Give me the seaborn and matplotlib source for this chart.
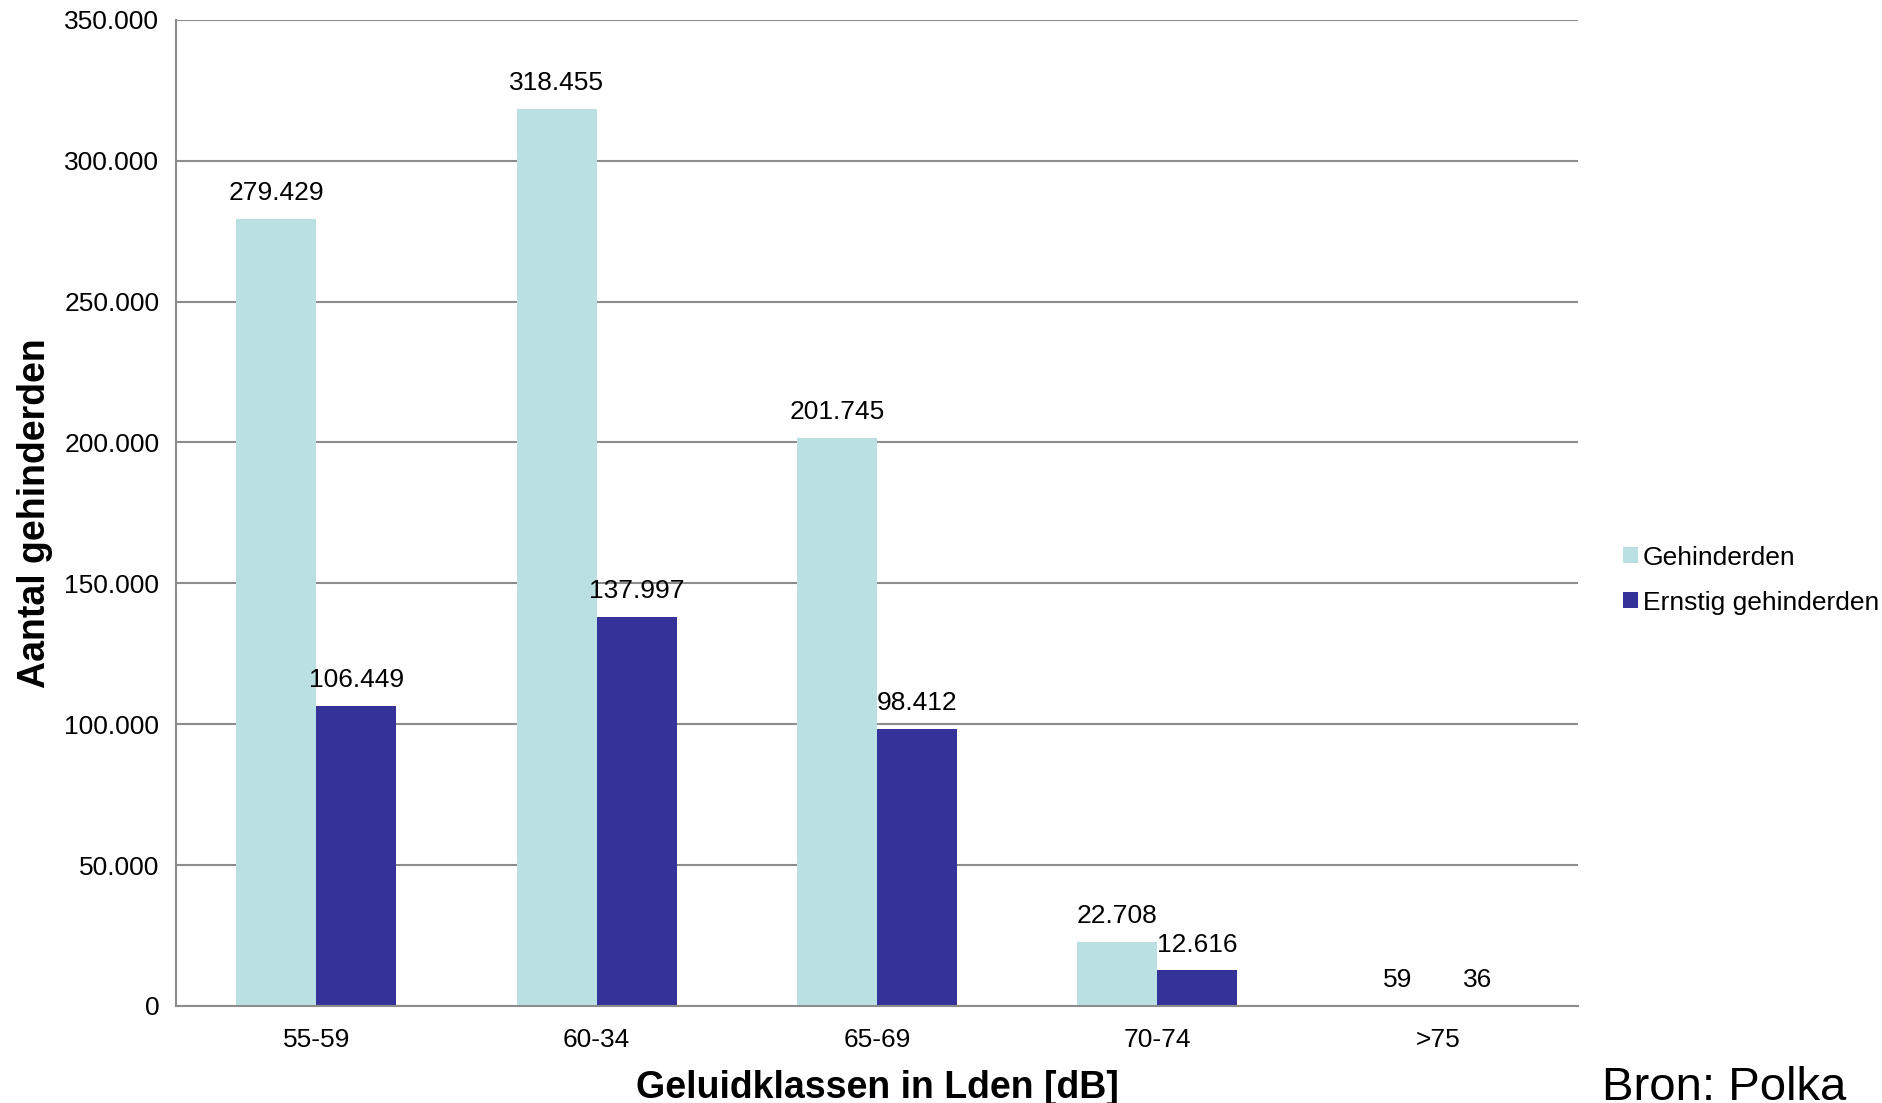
import pandas as pd
import matplotlib
matplotlib.use("Agg")
import matplotlib.pyplot as plt
import seaborn as sns
from matplotlib.patches import Patch
from matplotlib.ticker import FuncFormatter, MultipleLocator

# data
klassen = ["55-59", "60-34", "65-69", "70-74", ">75"]
gehinderden = [279429, 318455, 201745, 22708, 59]
ernstig = [106449, 137997, 98412, 12616, 36]
series = ["Gehinderden", "Ernstig gehinderden"]
colors = ["#BAE0E3", "#353399"]

df = pd.DataFrame({
    "klasse": klassen * 2,
    "aantal": gehinderden + ernstig,
    "reeks": [series[0]] * len(klassen) + [series[1]] * len(klassen),
})

sns.set_style("white")
plt.rcParams["font.family"] = ["Liberation Sans", "DejaVu Sans"]
plt.rcParams["text.color"] = "black"
plt.rcParams["axes.labelcolor"] = "black"
plt.rcParams["xtick.color"] = "black"
plt.rcParams["ytick.color"] = "black"

def dutch(v, pos=None):
    return f"{int(v):,}".replace(",", ".")

fig = plt.figure(figsize=(18.83, 11.03), dpi=100)
ax = fig.add_axes([0.0935, 0.088, 0.7445, 0.894])

sns.barplot(data=df, x="klasse", y="aantal", hue="reeks", order=klassen,
            hue_order=series, palette=colors, width=0.57, gap=0,
            linewidth=0, saturation=1, legend=False, ax=ax, errorbar=None)

ax.set_xlim(-0.5, 4.5)
ax.set_ylim(0, 350000)
ax.yaxis.set_major_locator(MultipleLocator(50000))
ax.yaxis.set_major_formatter(FuncFormatter(dutch))
ax.grid(axis="y", color="#8C8C8C", linewidth=1.5)
ax.set_axisbelow(True)
for s in ["top", "right"]:
    ax.spines[s].set_visible(False)
ax.spines["left"].set_color("#8C8C8C")
ax.spines["left"].set_linewidth(1.5)
ax.spines["bottom"].set_color("#8C8C8C")
ax.spines["bottom"].set_linewidth(1.5)
ax.tick_params(axis="y", length=6, width=1.5, color="#8C8C8C", labelcolor="black",
               labelsize=19, pad=6)
ax.tick_params(axis="x", length=0, labelsize=19, labelcolor="black", pad=16)

# value labels above each bar
for cont in ax.containers:
    for bar in cont:
        h = bar.get_height()
        ax.annotate(dutch(h), (bar.get_x() + bar.get_width() / 2, h),
                    xytext=(0, 10), textcoords="offset points",
                    ha="center", va="bottom", fontsize=19, color="black")

ax.set_xlabel("Geluidklassen in Lden [dB]", fontsize=27, fontweight="bold",
              labelpad=13, color="black")
ax.set_ylabel("Aantal gehinderden", fontsize=27, fontweight="bold",
              labelpad=8, color="black")

handles = [Patch(facecolor=c, edgecolor="none") for c in colors]
fig.legend(handles, series, loc="center left", bbox_to_anchor=(0.855, 0.474),
           frameon=False, fontsize=19, handlelength=0.55, handleheight=0.55,
           handletextpad=0.2, labelspacing=0.8, borderpad=0, labelcolor="black")

fig.text(0.851, 0.014, "Bron: Polka", fontsize=34, ha="left", va="center",
         color="black")

fig.savefig("out.png", dpi=100)
